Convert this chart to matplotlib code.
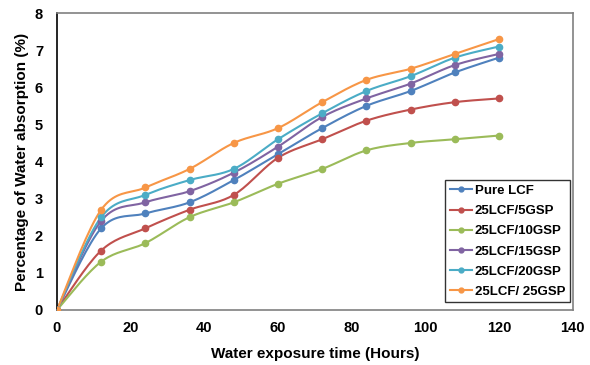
import numpy as np
import matplotlib
matplotlib.use("Agg")
import matplotlib.pyplot as plt

plt.rcParams['font.family'] = ['Liberation Sans', 'DejaVu Sans']

hours = [0, 12, 24, 36, 48, 60, 72, 84, 96, 108, 120]
series_names = ["Pure LCF", "25LCF/5GSP", "25LCF/10GSP", "25LCF/15GSP", "25LCF/20GSP", "25LCF/ 25GSP"]
pure_lcf = [0, 2.2, 2.6, 2.9, 3.5, 4.2, 4.9, 5.5, 5.9, 6.4, 6.8]
gsp5 = [0, 1.6, 2.2, 2.7, 3.1, 4.1, 4.6, 5.1, 5.4, 5.6, 5.7]
gsp10 = [0, 1.3, 1.8, 2.5, 2.9, 3.4, 3.8, 4.3, 4.5, 4.6, 4.7]
gsp15 = [0, 2.4, 2.9, 3.2, 3.7, 4.4, 5.2, 5.7, 6.1, 6.6, 6.9]
gsp20 = [0, 2.5, 3.1, 3.5, 3.8, 4.6, 5.3, 5.9, 6.3, 6.8, 7.1]
gsp25 = [0, 2.7, 3.3, 3.8, 4.5, 4.9, 5.6, 6.2, 6.5, 6.9, 7.3]
colors = ["#4F81BD", "#C0504D", "#9BBB59", "#8064A2", "#4BACC6", "#F79646"]
x_ticks = [0, 20, 40, 60, 80, 100, 120, 140]
y_ticks = [0, 1, 2, 3, 4, 5, 6, 7, 8]


def smooth(x, y, n=20):
    # Excel-style smoothed line (Catmull-Rom Bezier) through the data points
    x = np.asarray(x, float)
    y = np.asarray(y, float)
    px = np.concatenate([[x[0]], x, [x[-1]]])
    py = np.concatenate([[y[0]], y, [y[-1]]])
    xs, ys = [], []
    t = np.linspace(0, 1, n)
    for i in range(1, len(px) - 2):
        p0 = np.array([px[i], py[i]])
        p3 = np.array([px[i + 1], py[i + 1]])
        c1 = p0 + (np.array([px[i + 1], py[i + 1]]) - np.array([px[i - 1], py[i - 1]])) / 6
        c2 = p3 - (np.array([px[i + 2], py[i + 2]]) - np.array([px[i], py[i]])) / 6
        b = ((1 - t) ** 3)[:, None] * p0 + (3 * (1 - t) ** 2 * t)[:, None] * c1 \
            + (3 * (1 - t) * t ** 2)[:, None] * c2 + (t ** 3)[:, None] * p3
        xs.extend(b[:, 0])
        ys.extend(b[:, 1])
    return xs, ys


fig = plt.figure(figsize=(5.9, 3.65), dpi=100)
ax = fig.add_axes([0.0966, 0.151, 0.874, 0.813])

all_series = [pure_lcf, gsp5, gsp10, gsp15, gsp20, gsp25]
for name, vals, c in zip(series_names, all_series, colors):
    sx, sy = smooth(hours, vals)
    ax.plot(sx, sy, color=c, lw=1.5, zorder=2)
    ax.plot(hours, vals, 'o', color=c, ms=4.5, zorder=3)
    ax.plot([], [], '-o', color=c, lw=1.5, ms=3.5, label=name)

ax.set_xlim(0, 140)
ax.set_ylim(0, 8)
ax.set_xticks(x_ticks)
ax.set_yticks(y_ticks)
ax.tick_params(length=0, labelsize=10.5)
for lab in ax.get_xticklabels() + ax.get_yticklabels():
    lab.set_fontweight('bold')
ax.tick_params(axis='x', pad=8)
ax.tick_params(axis='y', pad=10)

ax.spines['left'].set_color('#000000')
ax.spines['bottom'].set_color('#808080')
ax.spines['top'].set_color('#808080')
ax.spines['right'].set_color('#808080')
for s in ax.spines.values():
    s.set_linewidth(1.2)

ax.set_xlabel("Water exposure time (Hours)", fontsize=11, fontweight='bold', labelpad=9)
ax.set_ylabel("Percentage of Water absorption (%)", fontsize=11, fontweight='bold', labelpad=4)

leg = ax.legend(loc='lower right', bbox_to_anchor=(0.995, 0.025), frameon=True, fancybox=False,
                prop={'weight': 'bold', 'size': 9.5}, handlelength=1.7, handletextpad=0.2,
                labelspacing=0.6, borderpad=0.35, borderaxespad=0.0)
leg.get_frame().set_edgecolor('#000000')
leg.get_frame().set_linewidth(1.0)

fig.savefig("out.png", dpi=100)
